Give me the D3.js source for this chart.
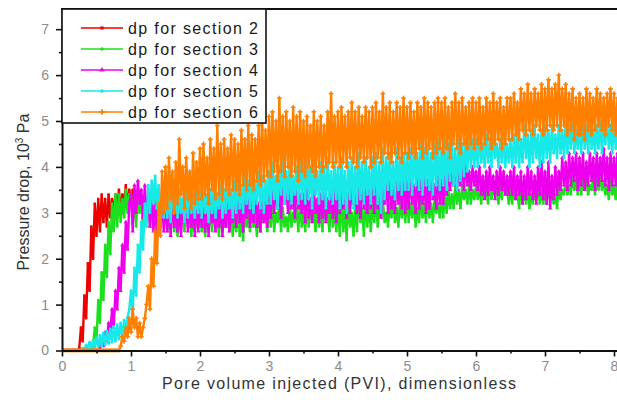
<!DOCTYPE html>
<html>
<head>
<meta charset="utf-8">
<script src="https://cdn.jsdelivr.net/npm/d3@7"></script>
<style>
  html, body { margin: 0; padding: 0; background: #fff; }
  svg { display: block; font-family: "Liberation Sans", Arial, sans-serif; }
</style>
</head>
<body>
<svg id="chart" width="617" height="404"></svg>
<script>
// Pressure drop (10^3 Pa) per section, sampled every 0.025 PVI starting at PVI = 0
const pviStep = 0.025;

const dpSection2 = [
  0,0,0,0,0,0,0,0,0,0,0.05,0.5,0.2,1.2,0.7,1.9,1.3,2.7,2.0,3.2,
  2.5,3.3,2.6,3.4,2.8,3.3,2.7,3.4,2.9,3.3,3.0,3.4,3.1,3.5,3.0,3.4,3.2,3.6,3.1,3.5,
  3.2,3.5,3.3,3.4
];

const dpSection3 = [
  0,0,0,0,0,0,0,0,0,0,0,0,0,0,0,0,0,0,0.1,0.5,
  0.2,1.1,0.6,1.7,1.1,2.3,1.6,2.8,2.1,3.2,2.6,3.4,2.7,3.4,2.8,3.3,2.9,3.5,3.0,3.4,
  3.4,2.8,3.3,2.7,3.5,3.0,3.3,2.6,3.2,2.8,3.4,2.7,3.1,2.9,3.3,2.6,3.2,2.7,3.4,2.8,
  3.1,2.6,3.0,2.7,3.3,2.6,2.9,2.5,3.1,2.7,3.0,2.6,3.2,2.8,2.9,2.5,3.1,2.6,3.0,2.7,
  3.1,2.6,2.9,2.5,3.2,2.7,3.0,2.6,3.3,2.8,2.9,2.5,3.1,2.6,3.0,2.7,3.2,2.6,2.9,2.5,
  3.0,2.6,3.2,2.5,2.9,2.4,3.1,2.7,3.0,2.6,3.3,2.7,2.9,2.5,3.1,2.6,3.2,2.8,3.0,2.6,
  3.1,2.7,3.2,2.6,3.0,2.8,3.2,2.6,3.1,2.7,2.9,2.6,3.2,2.7,3.0,2.8,3.1,2.6,3.2,2.7,
  3.0,2.6,3.2,2.7,3.1,2.8,3.0,2.6,3.2,2.7,3.1,2.6,3.3,2.8,3.0,2.6,3.2,2.7,3.1,2.6,
  3.2,2.5,3.4,2.6,3.1,2.4,3.3,2.7,3.0,2.5,3.2,2.6,3.4,2.8,3.1,2.5,3.3,2.7,3.2,2.6,
  3.2,2.8,3.3,2.7,3.1,2.9,3.3,2.8,3.0,2.7,3.2,2.9,3.3,2.8,3.1,2.7,3.3,2.9,3.2,2.8,
  3.3,2.8,3.2,2.9,3.3,2.7,3.1,2.8,3.3,2.9,3.2,2.8,3.4,2.9,3.2,2.8,3.3,3.0,3.2,2.9,
  3.3,2.9,3.4,3.0,3.5,3.1,3.4,3.1,3.6,3.2,3.5,3.1,3.6,3.3,3.5,3.2,3.6,3.2,3.5,3.3,
  3.6,3.3,3.5,3.2,3.6,3.4,3.5,3.2,3.7,3.3,3.6,3.4,3.5,3.2,3.6,3.3,3.7,3.4,3.5,3.2,
  3.5,3.2,3.6,3.3,3.4,3.1,3.6,3.2,3.5,3.2,3.6,3.1,3.4,3.2,3.5,3.3,3.6,3.2,3.5,3.2,
  3.5,3.2,3.6,3.3,3.5,3.2,3.4,3.1,3.6,3.3,3.5,3.4,3.7,3.4,3.6,3.4,3.8,3.5,3.7,3.4,
  3.7,3.4,3.8,3.5,3.7,3.4,3.6,3.5,3.8,3.4,3.7,3.5,3.8,3.5,3.7,3.4,3.6,3.3,3.7,3.4,
  3.6,3.3,3.7,3.4
];

const dpSection4 = [
  0,0,0,0,0,0,0,0,0,0,0,0,0,0,0,0,0,0,0,0,
  0,0,0.05,0.2,0.1,0.4,0.2,0.6,0.35,0.9,0.5,1.3,0.9,1.8,1.3,2.3,1.7,2.8,2.2,3.2,
  3.4,2.6,3.6,3.0,3.7,3.2,3.5,2.9,3.6,3.0,3.3,2.7,3.4,2.6,3.2,2.5,3.3,2.7,3.4,2.6,
  3.3,2.6,3.1,2.5,3.4,2.7,3.2,2.6,3.0,2.5,3.3,2.8,3.1,2.6,3.4,2.7,3.2,2.5,3.3,2.6,
  3.2,2.7,3.4,2.6,3.1,2.5,3.3,2.8,3.0,2.6,3.4,2.7,3.2,2.5,3.1,2.7,3.3,2.6,3.2,2.8,
  3.3,2.7,3.5,2.8,3.2,2.6,3.4,2.9,3.5,2.7,3.3,2.8,3.5,2.7,3.2,2.6,3.4,2.8,3.3,2.7,
  3.5,2.9,3.7,3.0,3.6,3.1,3.5,2.9,3.7,3.2,3.6,3.0,3.8,3.1,3.5,2.9,3.6,3.1,3.4,3.0,
  3.4,2.8,3.5,2.9,3.3,2.8,3.5,3.0,3.3,2.8,3.4,2.9,3.5,2.8,3.3,3.0,3.4,2.9,3.5,2.8,
  3.6,3.0,3.8,3.1,3.5,2.9,3.7,3.0,3.6,3.2,3.8,3.0,3.5,2.9,3.7,3.1,3.6,3.0,3.7,3.1,
  3.7,3.0,3.8,3.1,3.6,2.9,3.8,3.2,3.7,3.0,3.9,3.1,3.6,3.0,3.8,3.2,3.7,3.1,3.8,3.0,
  3.7,3.1,3.8,3.2,3.6,3.0,3.9,3.1,3.7,3.2,3.8,3.0,3.7,3.1,3.8,3.3,3.6,3.1,3.8,3.2,
  3.7,3.2,3.8,3.4,3.9,3.5,4.0,3.6,4.1,3.5,3.9,3.6,4.0,3.5,4.1,3.6,3.9,3.5,4.0,3.6,
  3.9,3.5,4.0,3.4,3.8,3.3,3.9,3.4,4.0,3.5,3.8,3.3,3.9,3.4,4.0,3.5,3.9,3.4,3.8,3.4,
  3.9,3.4,4.0,3.3,3.8,3.4,3.9,3.2,3.8,3.3,4.0,3.4,3.9,3.3,3.8,3.2,4.0,3.4,4.1,3.3,
  3.9,3.2,4.1,3.1,3.8,3.3,4.0,3.4,3.9,3.5,4.2,3.6,4.1,3.5,4.3,3.6,4.2,3.7,4.3,3.5,
  4.2,3.6,4.3,3.5,4.1,3.6,4.3,3.7,4.2,3.5,4.3,3.6,4.2,3.7,4.4,3.6,4.2,3.5,4.3,3.6,
  4.2,3.6,4.3,3.5
];

const dpSection5 = [
  0,0,0,0,0,0,0,0,0,0,0,0,0.05,0.02,0.12,0.03,0.18,0.05,0.22,0.06,
  0.28,0.08,0.33,0.1,0.38,0.12,0.42,0.15,0.47,0.18,0.52,0.2,0.56,0.25,0.6,0.3,0.66,0.35,0.72,0.9,
  1.3,0.8,1.8,1.2,2.3,1.7,2.8,2.2,3.2,2.7,3.6,3.0,3.7,3.2,3.8,3.1,3.6,3.0,3.5,2.9,
  3.5,2.9,3.4,2.8,3.6,3.0,3.4,2.9,3.5,3.0,3.3,2.8,3.5,2.9,3.6,3.0,3.4,2.9,3.5,3.0,
  3.5,2.9,3.6,3.0,3.4,2.8,3.5,3.0,3.6,2.9,3.4,3.1,3.6,2.9,3.5,3.0,3.7,3.1,3.5,2.9,
  3.7,3.0,3.8,3.1,3.6,3.0,3.9,3.2,3.7,3.1,3.8,3.0,3.7,3.2,3.9,3.1,3.8,3.0,3.7,3.2,
  3.9,3.2,4.1,3.3,3.8,3.1,4.0,3.4,4.2,3.2,3.9,3.3,4.1,3.2,3.8,3.4,4.0,3.2,4.2,3.3,
  4.1,3.2,4.4,3.3,4.0,3.1,4.2,3.4,3.9,3.2,4.1,3.3,4.0,3.1,4.2,3.3,3.9,3.2,4.1,3.3,
  4.0,3.1,4.2,3.2,3.9,3.0,4.1,3.3,4.2,3.1,4.0,3.2,4.3,3.3,4.1,3.2,4.2,3.4,4.0,3.2,
  4.2,3.4,4.3,3.2,4.1,3.0,4.4,3.3,4.2,3.5,4.3,3.4,4.1,3.3,4.4,3.5,4.2,3.4,4.3,3.5,
  4.3,3.5,4.4,3.4,4.5,3.6,4.3,3.5,4.6,3.4,4.4,3.6,4.5,3.5,4.3,3.4,4.5,3.6,4.6,3.5,
  4.4,3.6,4.6,3.5,4.5,3.7,4.6,3.6,4.4,3.5,4.6,3.7,4.5,3.8,4.6,3.9,4.7,4.0,4.6,4.0,
  4.6,4.0,4.7,4.1,4.5,4.0,4.7,4.1,4.6,4.0,4.7,4.2,4.5,4.0,4.6,4.1,4.7,4.0,4.5,4.1,
  4.6,4.0,4.7,4.1,4.8,4.0,4.6,4.1,4.9,4.2,4.7,4.0,4.8,4.1,4.9,4.2,4.7,4.0,4.8,4.1,
  4.9,4.2,4.8,4.1,4.9,4.3,4.7,4.2,4.9,4.3,4.8,4.2,5.0,4.3,4.9,4.4,5.0,4.3,4.8,4.4,
  4.9,4.3,5.0,4.4,4.9,4.3,5.0,4.4,4.8,4.3,4.9,4.4,5.0,4.3,4.9,4.5,5.0,4.4,4.9,4.3,
  5.0,4.4,4.9,4.3
];

const dpSection6 = [
  0,0,0,0,0,0,0,0,0,0,0,0,0,0,0,0,0,0,0,0,
  0,0,0,0,0,0,0,0,0,0,0,0,0,0,0.1,0.3,0.2,0.5,0.3,0.7,
  0.4,0.9,0.5,0.7,0.3,0.6,0.3,0.5,0.7,1.0,1.4,0.9,2.0,1.4,2.6,1.9,3.2,2.5,3.9,3.0,
  4.0,3.1,4.2,3.3,3.9,3.0,4.1,3.2,4.6,3.4,4.0,3.1,4.2,3.3,3.9,3.1,4.3,3.2,4.1,3.3,
  4.4,3.3,4.5,3.4,4.2,3.2,4.6,3.5,4.4,3.3,4.9,3.4,4.5,3.3,4.6,3.5,4.4,3.4,4.7,3.5,
  4.6,3.5,4.5,3.4,4.8,3.6,4.6,3.5,4.9,3.6,4.7,3.5,4.6,3.7,4.9,3.6,5.1,3.7,4.8,3.8,
  5.1,3.8,5.2,3.9,5.0,3.7,5.5,3.9,5.1,3.8,5.2,4.0,5.0,3.8,5.3,3.9,5.1,3.7,5.2,3.9,
  5.0,3.8,5.1,4.0,4.9,3.9,5.2,3.8,5.0,4.0,5.1,3.9,4.9,4.0,5.2,4.1,5.6,4.0,5.1,4.1,
  5.2,4.0,5.3,4.1,5.1,4.0,5.2,4.2,5.4,4.1,5.2,4.0,5.3,4.2,5.1,4.1,5.3,4.2,5.2,4.0,
  5.3,4.1,5.4,4.2,5.2,4.1,5.6,4.3,5.3,4.2,5.4,4.1,5.2,4.3,5.4,4.2,5.3,4.1,5.5,4.3,
  5.3,4.2,5.4,4.3,5.2,4.2,5.4,4.4,5.3,4.2,5.5,4.3,5.4,4.4,5.3,4.2,5.4,4.3,5.5,4.4,
  5.4,4.3,5.5,4.4,5.3,4.2,5.4,4.5,5.6,4.4,5.4,4.3,5.5,4.5,5.3,4.4,5.4,4.5,5.5,4.4,
  5.4,4.5,5.5,4.4,5.3,4.5,5.5,4.6,5.4,4.4,5.6,4.5,5.4,4.6,5.5,4.4,5.3,4.5,5.5,4.6,
  5.5,4.6,5.6,4.7,5.4,4.6,5.7,4.8,5.6,4.7,5.8,4.8,5.6,4.7,5.7,4.9,5.6,4.8,5.8,4.7,
  5.7,4.8,5.9,4.9,5.7,4.8,5.8,4.9,6.0,4.8,5.7,4.9,5.8,4.7,5.6,4.8,5.7,4.6,5.5,4.7,
  5.6,4.7,5.5,4.6,5.7,4.8,5.6,4.7,5.5,4.8,5.7,4.9,5.6,4.8,5.5,4.7,5.6,4.9,5.7,4.8,
  5.6,4.7,5.5,4.8
];

const seriesNames = ["dp for section 2", "dp for section 3", "dp for section 4", "dp for section 5", "dp for section 6"];
const seriesValues = [dpSection2, dpSection3, dpSection4, dpSection5, dpSection6];
const seriesColors = ["#ee0000", "#1be01b", "#ee00ee", "#18e8e8", "#ff7f00"];

const xTickValues = [0, 1, 2, 3, 4, 5, 6, 7, 8];
const xTickLabels = ["0", "1", "2", "3", "4", "5", "6", "7", "8"];
const xMinorTicks = [0.5, 1.5, 2.5, 3.5, 4.5, 5.5, 6.5, 7.5];
const yTickValues = [0, 1, 2, 3, 4, 5, 6, 7];
const yTickLabels = ["0", "1", "2", "3", "4", "5", "6", "7"];
const yMinorTicks = [0.5, 1.5, 2.5, 3.5, 4.5, 5.5, 6.5];

const xTitle = "Pore volume injected (PVI), dimensionless";
const yTitleMain = "Pressure drop, 10";
const yTitleSup = "3";
const yTitleUnit = " Pa";

// ---- layout ----
const svg = d3.select("#chart");
const plotLeft = 62, plotTop = 9, plotBottom = 350.5;

const x = d3.scaleLinear().domain([0, 8.2]).range([plotLeft, plotLeft + 69 * 8.2]);
const y = d3.scaleLinear().domain([0, 7.44]).range([plotBottom, plotTop]);

svg.append("defs").append("clipPath").attr("id", "plotClip")
  .append("rect")
  .attr("x", plotLeft).attr("y", plotTop)
  .attr("width", 617 - plotLeft).attr("height", plotBottom - plotTop + 2);

// ---- series: dense noisy traces with small point markers ----
const symbolTypes = [d3.symbolSquare, d3.symbolCircle, d3.symbolTriangle, d3.symbolCircle, d3.symbolCross];
const symbolSizes = [6, 6, 8, 7, 12];

const line = d3.line()
  .x((d, i) => x(i * pviStep))
  .y(d => y(d));

const dataLayer = svg.append("g").attr("clip-path", "url(#plotClip)");

seriesValues.forEach((vals, s) => {
  const g = dataLayer.append("g");
  g.append("path")
    .datum(vals)
    .attr("fill", "none")
    .attr("stroke", seriesColors[s])
    .attr("stroke-width", 2.4)
    .attr("stroke-linejoin", "bevel")
    .attr("d", line);
  const sym = d3.symbol().type(symbolTypes[s]).size(symbolSizes[s]);
  g.selectAll("path.mk")
    .data(vals)
    .join("path")
    .attr("class", "mk")
    .attr("transform", (d, i) => `translate(${x(i * pviStep)},${y(d)})`)
    .attr("d", sym)
    .attr("fill", seriesColors[s]);
});

// ---- axes ----
const axisColor = "#111";
const tickLabelColor = "#8c8c8c";

svg.append("g")
  .attr("transform", `translate(0,${plotBottom})`)
  .call(d3.axisBottom(x).tickValues(xTickValues)
    .tickFormat((d, i) => xTickLabels[i]).tickSize(6).tickPadding(5).tickSizeOuter(0));
svg.append("g")
  .attr("transform", `translate(0,${plotBottom})`)
  .call(d3.axisBottom(x).tickValues(xMinorTicks).tickFormat("").tickSize(3).tickSizeOuter(0))
  .call(g => g.select(".domain").remove());

svg.append("g")
  .attr("transform", `translate(${plotLeft},0)`)
  .call(d3.axisLeft(y).tickValues(yTickValues)
    .tickFormat((d, i) => yTickLabels[i]).tickSize(6).tickPadding(7).tickSizeOuter(0));
svg.append("g")
  .attr("transform", `translate(${plotLeft},0)`)
  .call(d3.axisLeft(y).tickValues(yMinorTicks).tickFormat("").tickSize(3).tickSizeOuter(0))
  .call(g => g.select(".domain").remove());

svg.selectAll(".domain").attr("stroke", axisColor).attr("stroke-width", 2);
svg.selectAll(".tick line").attr("stroke", axisColor).attr("stroke-width", 1.6);
svg.selectAll(".tick text")
  .attr("fill", tickLabelColor)
  .style("font-size", "14px")
  .style("font-family", "'Liberation Sans', Arial, sans-serif");

// frame top edge
svg.append("line")
  .attr("x1", plotLeft - 1).attr("x2", 617)
  .attr("y1", plotTop).attr("y2", plotTop)
  .attr("stroke", axisColor).attr("stroke-width", 2);

// ---- axis titles ----
svg.append("text")
  .attr("x", 339).attr("y", 389)
  .attr("text-anchor", "middle")
  .attr("fill", "#333")
  .attr("textLength", 354)
  .attr("lengthAdjust", "spacing")
  .style("font-size", "16px")
  .text(xTitle);

const yt = svg.append("text")
  .attr("transform", "translate(29,192) rotate(-90)")
  .attr("text-anchor", "middle")
  .attr("fill", "#333")
  .style("font-size", "16px");
yt.append("tspan").text(yTitleMain);
yt.append("tspan").attr("dy", -6).style("font-size", "10px").text(yTitleSup);
yt.append("tspan").attr("dy", 6).text(yTitleUnit);

// ---- legend ----
const legend = svg.append("g");
legend.append("rect")
  .attr("x", plotLeft).attr("y", plotTop)
  .attr("width", 266 - plotLeft).attr("height", 123 - plotTop)
  .attr("fill", "#fff")
  .attr("stroke", axisColor).attr("stroke-width", 1.6);

seriesNames.forEach((name, s) => {
  const cy = 28 + s * 21;
  legend.append("line")
    .attr("x1", 81).attr("x2", 123).attr("y1", cy).attr("y2", cy)
    .attr("stroke", seriesColors[s]).attr("stroke-width", 1.4);
  legend.append("path")
    .attr("transform", `translate(102,${cy})`)
    .attr("d", d3.symbol().type(symbolTypes[s]).size(symbolSizes[s] + 4))
    .attr("fill", seriesColors[s]);
  legend.append("text")
    .attr("x", 128).attr("y", cy + 5.5)
    .attr("fill", "#1a1a1a")
    .attr("textLength", 130)
    .attr("lengthAdjust", "spacing")
    .style("font-size", "16px")
    .text(name);
});
</script>
</body>
</html>
